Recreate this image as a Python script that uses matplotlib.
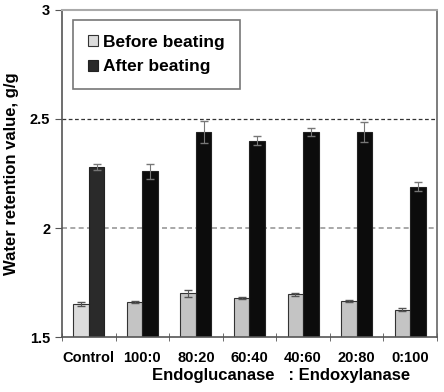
import matplotlib.pyplot as plt
import numpy as np

plt.rcParams['font.family'] = ['Liberation Sans', 'DejaVu Sans']
plt.rcParams['font.weight'] = 'bold'

groups = ["Control", "100:0", "80:20", "60:40", "40:60", "20:80", "0:100"]
before = [1.65, 1.66, 1.70, 1.68, 1.695, 1.665, 1.625]
before_err = [0.01, 0.003, 0.015, 0.005, 0.006, 0.006, 0.006]
after = [2.28, 2.26, 2.44, 2.40, 2.44, 2.44, 2.19]
after_err = [0.015, 0.035, 0.05, 0.02, 0.02, 0.045, 0.02]

fig = plt.figure(figsize=(4.44, 3.92), dpi=100)
ax = fig.add_axes([0.1396, 0.1403, 0.8446, 0.8342])

x = np.arange(len(groups))
w = 0.29
bcol = ["#dcdcdc"] + ["#c4c4c4"] * 6
acol = ["#2a2a2a"] + ["#0c0c0c"] * 6

ax.axhline(2.5, color="#333333", ls=(0, (3, 2)), lw=0.9, zorder=0)
ax.axhline(2.0, color="#999999", ls=(0, (3, 2)), lw=1.2, zorder=0)

ax.bar(x - w/2, before, w, color=bcol, edgecolor="#333333", linewidth=0.8,
       yerr=before_err, error_kw=dict(ecolor="#555555", capsize=3, elinewidth=0.8),
       label="Before beating", zorder=2)
ax.bar(x + w/2, after, w, color=acol, edgecolor="#222222", linewidth=0.8,
       yerr=after_err, error_kw=dict(ecolor="#777777", capsize=3, elinewidth=0.8),
       label="After beating", zorder=2)

ax.set_xlim(-0.5, len(groups) - 0.5)
ax.set_ylim(1.5, 3)
ax.set_yticks([1.5, 2, 2.5, 3])
ax.set_yticklabels(["1.5", "2", "2.5", "3"])
ax.set_xticks(x)
ax.set_xticklabels(groups)
ax.set_xticks(np.arange(len(groups) + 1) - 0.5, minor=True)
ax.tick_params(axis="x", which="major", length=0, labelsize=10.5, pad=10)
ax.tick_params(axis="x", which="minor", length=6, direction="inout", color="#555555")
ax.tick_params(axis="y", length=5, direction="out", color="#555555", labelsize=10.5)

for s in ["left", "bottom"]:
    ax.spines[s].set_color("#555555")
    ax.spines[s].set_linewidth(1.2)
ax.spines["top"].set_color("#aaaaaa")
ax.spines["top"].set_linewidth(1.5)
ax.spines["right"].set_color("#666666")
ax.spines["right"].set_linewidth(1.2)

ax.set_ylabel("Water retention value, g/g", fontsize=12, fontweight="bold", labelpad=8)
ax.set_xlabel("Endoglucanase   : Endoxylanase", fontsize=12, fontweight="bold")
ax.xaxis.set_label_coords(0.585, -0.095)

leg = ax.legend(loc="upper left", bbox_to_anchor=(0.029, 0.969), borderaxespad=0,
                fontsize=12.5, frameon=True, fancybox=False, edgecolor="#555555",
                handlelength=0.6, handleheight=0.6, handletextpad=0.3,
                labelspacing=0.55, borderpad=0.85)
leg.get_frame().set_linewidth(1.2)

fig.savefig("out.png", dpi=100)
